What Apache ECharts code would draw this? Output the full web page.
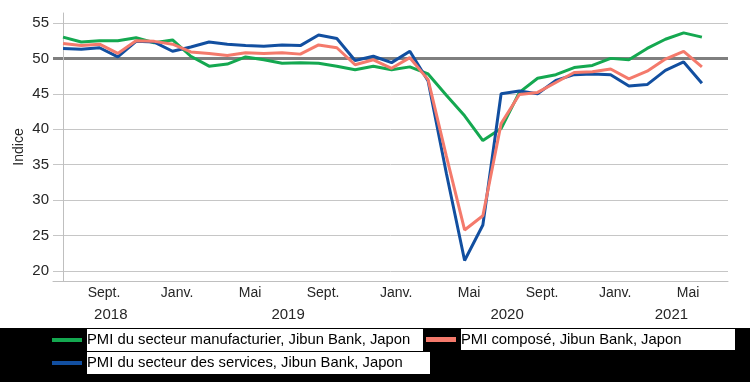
<!DOCTYPE html>
<html><head><meta charset="utf-8">
<script src="https://cdn.jsdelivr.net/npm/echarts@6/dist/echarts.min.js"></script>
<style>html,body{margin:0;padding:0;background:#fff}#c{width:750px;height:382px}</style>
</head><body><div id="c"></div>
<script>
// Release months (data for the previous month is published at the start of each month)
const months = [
  '2018-07','2018-08','2018-09','2018-10','2018-11','2018-12',
  '2019-01','2019-02','2019-03','2019-04','2019-05','2019-06','2019-07','2019-08','2019-09','2019-10','2019-11','2019-12',
  '2020-01','2020-02','2020-03','2020-04','2020-05','2020-06','2020-07','2020-08','2020-09','2020-10','2020-11','2020-12',
  '2021-01','2021-02','2021-03','2021-04','2021-05','2021-06'
];
const monthNames = {'01':'Janv.','05':'Mai','09':'Sept.'};
const yearLabelMonths = {'2018-10':'2018','2019-07':'2019','2020-07':'2020','2021-04':'2021'};
const yTicks = [20,25,30,35,40,45,50,55];
const refLine = [50];

const manufacturing = [53.0,52.3,52.5,52.5,52.9,52.2,52.6,50.3,48.9,49.2,50.2,49.8,49.3,49.4,49.3,48.9,48.4,48.9,48.4,48.8,47.8,44.8,41.9,38.4,40.1,45.2,47.2,47.7,48.7,49.0,50.0,49.8,51.4,52.7,53.6,53.0];
const services = [51.4,51.3,51.5,50.2,52.4,52.3,51.0,51.6,52.3,52.0,51.8,51.7,51.9,51.8,53.3,52.8,49.7,50.3,49.4,51.0,46.8,33.8,21.5,26.5,45.0,45.4,45.0,46.9,47.7,47.8,47.7,46.1,46.3,48.3,49.5,46.5];
const composite = [52.1,51.8,52.0,50.7,52.5,52.4,52.0,50.9,50.7,50.4,50.8,50.7,50.8,50.6,51.9,51.5,49.1,49.8,48.6,50.1,47.0,36.2,25.8,27.8,40.8,44.9,45.2,46.6,48.0,48.1,48.5,47.1,48.2,49.9,51.0,48.8];

const seriesNames = [
  'PMI du secteur manufacturier, Jibun Bank, Japon',
  'PMI du secteur des services, Jibun Bank, Japon',
  'PMI composé, Jibun Bank, Japon'
];
const colors = ['#14a850','#124fa0','#f47a6c'];

const FONT = "'Liberation Sans', Arial, sans-serif";
const monthIdx = months.map((m,i)=>monthNames[m.slice(5)] ? i : -1).filter(i=>i>=0);
const yearIdx = months.map((m,i)=>yearLabelMonths[m] ? i : -1).filter(i=>i>=0);
const toPairs = arr => arr.map((v,i)=>[i,v]);

const chart = echarts.init(document.getElementById('c'), null, {renderer:'canvas'});
const xCommon = {type:'value', min:-0.55, max:36.43, splitLine:{show:false}, axisTick:{show:false}};
chart.setOption({
  animation:false,
  backgroundColor:'#ffffff',
  textStyle:{fontFamily:FONT},
  grid:{left:53, right:22, top:13, bottom:101, containLabel:false, outerBoundsMode:'none'},
  graphic:[{type:'rect', shape:{x:0,y:328,width:750,height:54}, style:{fill:'#000'}, z:0, silent:true}],
  xAxis:[
    Object.assign({}, xCommon, {
      position:'bottom',
      axisLine:{show:true, lineStyle:{color:'#bfbfbf', width:1}},
      axisLabel:{customValues:monthIdx, margin:5, fontSize:14, color:'#262626', fontFamily:FONT,
        padding:[0,0,0,9],
        formatter:v=>monthNames[months[Math.round(v)].slice(5)] || ''}
    }),
    Object.assign({}, xCommon, {
      position:'bottom', offset:21,
      axisLine:{show:false},
      axisLabel:{customValues:yearIdx, margin:5, fontSize:15, color:'#262626', fontFamily:FONT,
        formatter:v=>{const y=yearLabelMonths[months[Math.round(v)]]; return y===yearLabelMonths['2018-10'] ? '{a|'+y+'}' : '{b|'+y+'}';},
        rich:{a:{fontSize:15,color:'#262626',fontFamily:FONT,padding:[0,14,0,0]}, b:{fontSize:15,color:'#262626',fontFamily:FONT,padding:[0,0,0,12]}}}
    })
  ],
  yAxis:[
    {type:'value', min:18.6, max:56.4,
     axisLine:{show:true, lineStyle:{color:'#bfbfbf', width:1}},
     axisTick:{show:false, customValues:yTicks},
     axisLabel:{customValues:yTicks, fontSize:15, color:'#262626', margin:4, fontFamily:FONT},
     splitLine:{show:true, lineStyle:{color:'#c6c6c6', width:1}},
     name:'Indice', nameLocation:'middle', nameGap:27, nameMoveOverlap:false,
     nameTextStyle:{fontSize:14, color:'#262626', fontFamily:FONT}},
    {type:'value', min:18.6, max:56.4, position:'left',
     axisLine:{show:false}, axisLabel:{show:false},
     axisTick:{show:false, customValues:refLine},
     splitLine:{show:true, lineStyle:{color:'#7f7f7f', width:3}}}
  ],
  legend:[
    {data:[seriesNames[0]], left:52, top:329, padding:0, icon:'rect', itemWidth:30, itemHeight:4,
     textStyle:{fontSize:14.8, color:'#000', fontFamily:FONT, backgroundColor:'#fff', width:336, height:22, lineHeight:22}, z:10},
    {data:[seriesNames[1]], left:52, top:352, padding:0, icon:'rect', itemWidth:30, itemHeight:4,
     textStyle:{fontSize:14.8, color:'#000', fontFamily:FONT, backgroundColor:'#fff', width:343, height:22, lineHeight:22}, z:10},
    {data:[seriesNames[2]], left:426, top:329, padding:0, icon:'rect', itemWidth:30, itemHeight:5,
     textStyle:{fontSize:14.8, color:'#000', fontFamily:FONT, backgroundColor:'#fff', width:274, height:21, lineHeight:21}, z:10}
  ],
  series:[
    {name:seriesNames[0], type:'line', data:toPairs(manufacturing), showSymbol:false, symbol:'none', lineStyle:{width:3, color:colors[0]}, itemStyle:{color:colors[0]}},
    {name:seriesNames[1], type:'line', data:toPairs(services), showSymbol:false, symbol:'none', lineStyle:{width:3, color:colors[1]}, itemStyle:{color:colors[1]}},
    {name:seriesNames[2], type:'line', data:toPairs(composite), showSymbol:false, symbol:'none', lineStyle:{width:3, color:colors[2]}, itemStyle:{color:colors[2]}}
  ]
});
</script>
</body></html>
